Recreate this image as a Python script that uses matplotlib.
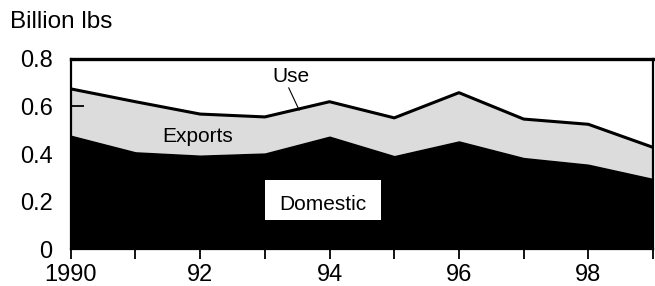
import numpy as np
import matplotlib.pyplot as plt
from matplotlib.patches import Rectangle

plt.rcParams['font.family'] = ['Liberation Sans', 'DejaVu Sans']

# データ
years = [1990, 1991, 1992, 1993, 1994, 1995, 1996, 1997, 1998, 1999]
use = [0.674, 0.620, 0.568, 0.556, 0.620, 0.552, 0.658, 0.547, 0.525, 0.428]
domestic = [0.480, 0.410, 0.396, 0.405, 0.476, 0.394, 0.456, 0.386, 0.358, 0.298]
xtick_labels = ['1990', '', '92', '', '94', '', '96', '', '98', '']
yticks = [0, 0.2, 0.4, 0.6, 0.8]
ytick_labels = ['0', '0.2', '0.4', '0.6', '0.8']

fig = plt.figure(figsize=(6.55, 2.86), dpi=100)
ax = fig.add_axes([0.108, 0.129, 0.889, 0.665])

ax.fill_between(years, domestic, use, color='#dcdcdc', lw=0)
ax.fill_between(years, 0, domestic, color='black', lw=0)
ax.plot(years, use, color='black', lw=2.2)

ax.set_xlim(1990, 1999)
ax.set_ylim(0, 0.8)
ax.set_xticks(years)
ax.set_xticklabels(xtick_labels)
ax.set_yticks(yticks)
ax.set_yticklabels(ytick_labels)
ax.tick_params(axis='x', direction='out', length=7, width=1.3, labelsize=17, pad=3.5)
ax.tick_params(axis='y', direction='in', length=9, width=1.3, labelsize=17, pad=13)
for s in ax.spines.values():
    s.set_linewidth(1.6)
ax.spines['top'].set_linewidth(2.4)

# 注記
fig.text(0.015, 0.902, 'Billion lbs', fontsize=17.5, ha='left', va='baseline')
ax.text(1993.40, 0.704, 'Use', fontsize=15, ha='center', va='baseline')
ax.plot([1993.37, 1993.53], [0.678, 0.585], color='black', lw=0.8)
ax.text(1991.96, 0.45, 'Exports', fontsize=15, ha='center', va='baseline')
ax.add_patch(Rectangle((1993.01, 0.122), 1.78, 0.17, fc='white', ec='none', zorder=3))
ax.text(1993.90, 0.164, 'Domestic', fontsize=15, ha='center', va='baseline', zorder=4)

fig.savefig('out.png', dpi=100)
